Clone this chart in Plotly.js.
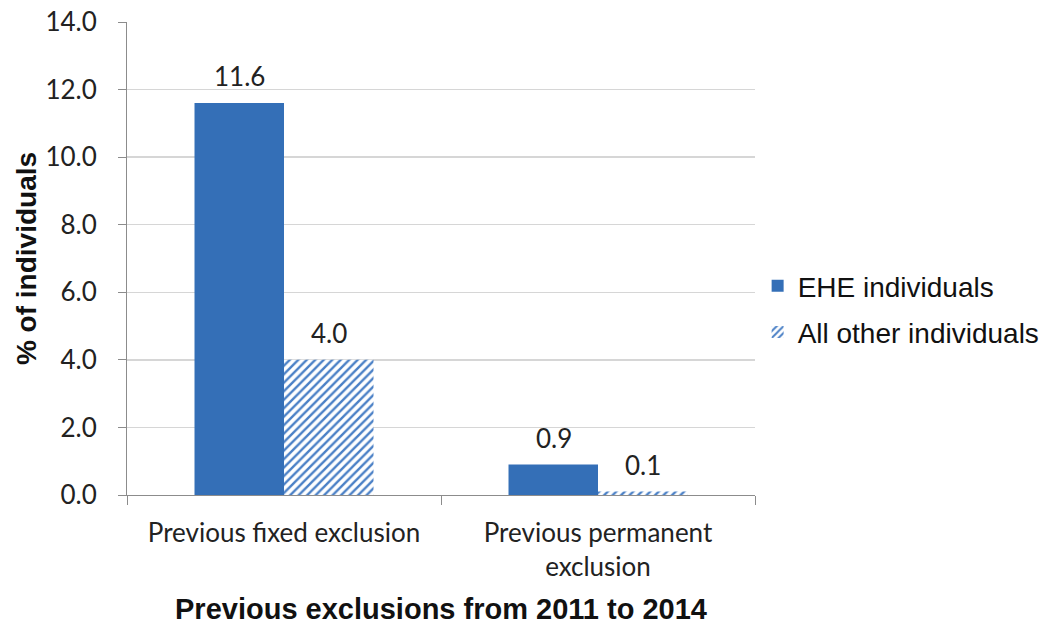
<!DOCTYPE html>
<html>
<head>
<meta charset="utf-8">
<script src="https://cdn.plot.ly/plotly-3.0.1.min.js"></script>
<style>html,body{margin:0;padding:0;background:#fff;}#chart{width:1045px;height:628px;}</style>
</head>
<body>
<div id="chart"></div>
<script>
const categories = ["Previous fixed exclusion", "Previous permanent<br>exclusion"];
const seriesNames = ["EHE individuals", "All other individuals"];
const eheValues = [11.6, 0.9];
const otherValues = [4.0, 0.1];
const yTickValues = [0, 2, 4, 6, 8, 10, 12, 14];
const yTickLabels = ["0.0", "2.0", "4.0", "6.0", "8.0", "10.0", "12.0", "14.0"];

const labelFont = {family: "Lato, 'Open Sans', sans-serif", size: 26, color: "#222"};
const arialBold = {family: "'Liberation Sans', Arial, sans-serif", size: 29, color: "#111", weight: "bold"};

const traces = [
  {
    type: "bar", name: seriesNames[0], x: categories, y: eheValues,
    legendgroup: "a",
    marker: {color: "#346fb7", line: {width: 0}},
    hoverinfo: "skip"
  },
  {
    type: "bar", name: seriesNames[1], x: categories, y: otherValues,
    legendgroup: "b",
    marker: {color: "#ffffff", line: {width: 0},
      pattern: {shape: "/", fgcolor: "#4a80c6", bgcolor: "#ffffff", size: 6, solidity: 0.4}},
    hoverinfo: "skip"
  }
];

// data labels, placed at each bar top through the axes
const halfBar = 44.5;
const annotations = [];
[eheValues, otherValues].forEach((vals, s) => {
  vals.forEach((v, i) => {
    annotations.push({
      x: categories[i], y: v, xref: "x", yref: "y",
      text: v.toFixed(1), showarrow: false,
      xshift: s === 0 ? -halfBar : halfBar, yshift: 9,
      yanchor: "bottom", font: labelFont
    });
  });
});

const layout = {
  width: 1045, height: 628,
  margin: {l: 127, r: 290, t: 22, b: 133},
  paper_bgcolor: "#fff", plot_bgcolor: "#fff",
  barmode: "group", bargap: 0.43, bargroupgap: 0,
  showlegend: true,
  legend: {xref: "container", yref: "container", x: 0.725, xanchor: "left", y: 0.508, yanchor: "middle",
    font: {family: "'Liberation Sans', Arial, sans-serif", size: 28, color: "#111"},
    traceorder: "grouped", tracegroupgap: 7, itemwidth: 30},
  annotations: annotations,
  xaxis: {
    type: "category", tickson: "boundaries", ticks: "outside", ticklen: 9,
    tickcolor: "#8c8c8c", showline: true, linecolor: "#8c8c8c", linewidth: 1,
    showgrid: false, tickfont: labelFont, ticklabelstandoff: 15,
    title: {text: "Previous exclusions from 2011 to 2014", standoff: 17, font: arialBold}
  },
  yaxis: {
    range: [0, 14], tickvals: yTickValues, ticktext: yTickLabels,
    ticks: "outside", ticklen: 8, tickcolor: "#8c8c8c",
    showline: true, linecolor: "#8c8c8c", linewidth: 1,
    showgrid: true, gridcolor: "#d6d6d6", gridwidth: 1.3, zeroline: false,
    tickfont: labelFont, ticklabelstandoff: 16,
    title: {text: "% of individuals", standoff: 0,
      font: {family: "'Liberation Sans', Arial, sans-serif", size: 28, color: "#111", weight: "bold"}}
  },
  font: labelFont
};

Plotly.newPlot("chart", traces, layout, {displayModeBar: false, staticPlot: true});
</script>
</body>
</html>
